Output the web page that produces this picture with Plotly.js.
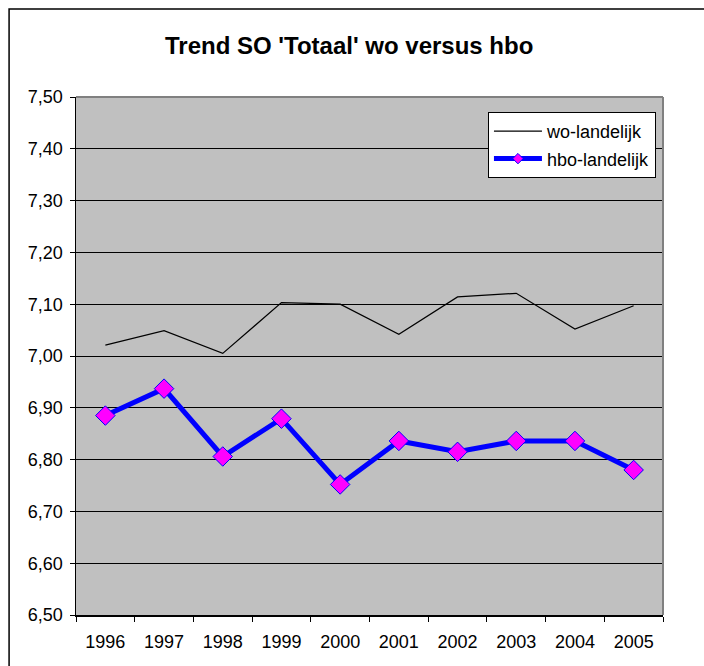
<!DOCTYPE html>
<html>
<head>
<meta charset="utf-8">
<script src="https://cdn.plot.ly/plotly-3.0.1.min.js"></script>
<style>html,body{margin:0;padding:0;background:#fff;}#chart{width:704px;height:666px;}</style>
</head>
<body>
<div id="chart"></div>
<script>
var years = ["1996","1997","1998","1999","2000","2001","2002","2003","2004","2005"];
var woLandelijk = [7.021, 7.049, 7.005, 7.103, 7.100, 7.042, 7.114, 7.121, 7.052, 7.097];
var hboLandelijk = [6.885, 6.937, 6.806, 6.879, 6.752, 6.836, 6.815, 6.836, 6.836, 6.780];
var yTicks = [6.5, 6.6, 6.7, 6.8, 6.9, 7.0, 7.1, 7.2, 7.3, 7.4, 7.5];

var font = "Liberation Sans, Arial, sans-serif";

var traces = [
  {
    x: years, y: woLandelijk, name: "wo-landelijk", type: "scatter", mode: "lines",
    line: {color: "#000000", width: 1.2}, legendgroup: "a"
  },
  {
    x: years, y: hboLandelijk, name: "hbo-landelijk", type: "scatter", mode: "lines+markers",
    line: {color: "#0000FF", width: 5},
    marker: {symbol: "diamond", size: 15, color: "#FF00FF", line: {color: "#0000FF", width: 1}},
    showlegend: false, legendgroup: "b"
  },
  {
    x: [null], y: [null], name: "hbo-landelijk", type: "scatter", mode: "lines+markers",
    line: {color: "#0000FF", width: 5},
    marker: {symbol: "diamond", size: 8, color: "#FF00FF", line: {color: "#0000FF", width: 1}},
    legendgroup: "b", hoverinfo: "skip"
  }
];

var layout = {
  width: 704, height: 666,
  margin: {l: 76, r: 41, t: 97, b: 51, pad: 0},
  paper_bgcolor: "#FFFFFF",
  plot_bgcolor: "#C0C0C0",
  separators: ",.",
  font: {family: font, size: 18, color: "#000000"},
  title: {
    text: "<b>Trend SO 'Totaal' wo versus hbo</b>",
    font: {family: font, size: 24, color: "#000000"},
    x: 0.496, xanchor: "center", y: 0.932, yanchor: "middle"
  },
  xaxis: {
    type: "category", range: [-0.5, 9.5],
    showgrid: false, zeroline: false,
    showline: true, linecolor: "#000000", linewidth: 1.5,
    ticks: "outside", tickson: "boundaries", ticklen: 5, tickcolor: "#000000",
    tickfont: {family: font, size: 18}, ticklabelstandoff: 10
  },
  yaxis: {
    range: [6.5, 7.5], tickvals: yTicks, tickformat: ".2f",
    showgrid: true, gridcolor: "#000000", gridwidth: 1,
    zeroline: false,
    showline: true, linecolor: "#000000", linewidth: 1.5,
    ticks: "outside", ticklen: 5, tickcolor: "#000000",
    tickfont: {family: font, size: 18}, ticklabelstandoff: 3
  },
  legend: {
    x: 0.988, xanchor: "right", y: 0.971, yanchor: "top",
    bgcolor: "#FFFFFF", bordercolor: "#000000", borderwidth: 1,
    font: {family: font, size: 18},
    traceorder: "grouped", tracegroupgap: 1, itemwidth: 48
  },
  showlegend: true,
  shapes: [
    {type: "line", xref: "paper", yref: "paper", x0: 0, x1: 1, y0: 1, y1: 1, line: {color: "#808080", width: 2}},
    {type: "line", xref: "paper", yref: "paper", x0: 1, x1: 1, y0: 0, y1: 1, line: {color: "#808080", width: 2}},
    {type: "rect", xref: "paper", yref: "paper", x0: -0.114, x1: 1.2, y0: -0.2, y1: 1.170, line: {color: "#000000", width: 1.5}, fillcolor: "rgba(0,0,0,0)", layer: "below"}
  ]
};

Plotly.newPlot("chart", traces, layout, {displayModeBar: false, staticPlot: true});
</script>
</body>
</html>
